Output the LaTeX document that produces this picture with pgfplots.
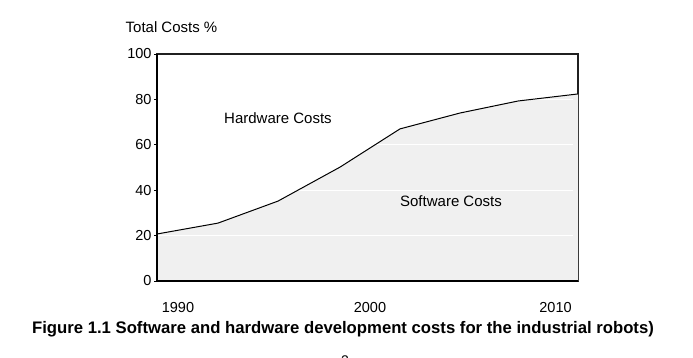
\documentclass[border=0pt]{standalone}
\usepackage{pgfplots}
\pgfplotsset{compat=1.18}
\usepackage{fontspec}
\setmainfont{Liberation Sans}
\definecolor{fillgray}{HTML}{F0F0F0}
\definecolor{framegray}{HTML}{202020}
\begin{document}
\begin{tikzpicture}[x=1pt,y=1pt]
\useasboundingbox (0,0) rectangle (693,358);
\begin{axis}[
  at={(157pt,77pt)}, anchor=south west,
  scale only axis, width=421pt, height=227pt,
  xmin=1988.89, xmax=2011.19, ymin=0, ymax=100,
  xtick={1990,2000.17,2010}, xticklabels={1990,2000,2010},
  ytick={0,20,40,60,80,100},
  ytick pos=left, xtick pos=bottom,
  x tick style={draw=none},
  y tick style={black, line width=0.8pt},
  tick align=outside, major tick length=3pt,
  every tick label/.append style={font=\fontsize{14.5}{16}\selectfont},
  xticklabel style={yshift=-14.5pt},
  yticklabel style={xshift=1pt},
  /pgf/number format/assume math mode=true,
  axis line style={framegray, line width=1.3pt},
  clip=false,
]
\addplot[draw=none, fill=fillgray] coordinates {
  (1988.89,20.7) (1992.12,25.5) (1995.30,35.2) (1998.59,50.2)
  (2001.76,67.0) (2004.94,74.0) (2008.02,79.3) (2011.19,82.4)
} \closedcycle;
\addplot[white, line width=0.8pt] coordinates {(1988.89,20) (2010.9,20)};
\addplot[white, line width=0.8pt] coordinates {(1988.89,40) (2010.9,40)};
\addplot[white, line width=0.8pt] coordinates {(1988.89,60) (2010.9,60)};
\addplot[white, line width=0.8pt] coordinates {(1988.89,80) (2010.9,80)};
\addplot[black, line width=1pt] coordinates {
  (1988.89,20.7) (1992.12,25.5) (1995.30,35.2) (1998.59,50.2)
  (2001.76,67.0) (2004.94,74.0) (2008.02,79.3) (2011.19,82.4)
};
\draw[black, line width=2pt] (rel axis cs:0,1) -- (rel axis cs:0,0) -- (rel axis cs:1,0);
\end{axis}
\node[font=\fontsize{15}{17}\selectfont] at (171.5,331) {Total Costs \%};
\node[font=\fontsize{15}{17}\selectfont] at (278,240) {Hardware Costs};
\node[font=\fontsize{15}{17}\selectfont] at (451,157) {Software Costs};
\node[font=\bfseries\fontsize{16.7}{19}\selectfont] at (343,29) {Figure 1.1 Software and hardware development costs for the industrial robots)};
\node[font=\fontsize{14}{16}\selectfont] at (345,-3) {2};
\end{tikzpicture}
\end{document}
